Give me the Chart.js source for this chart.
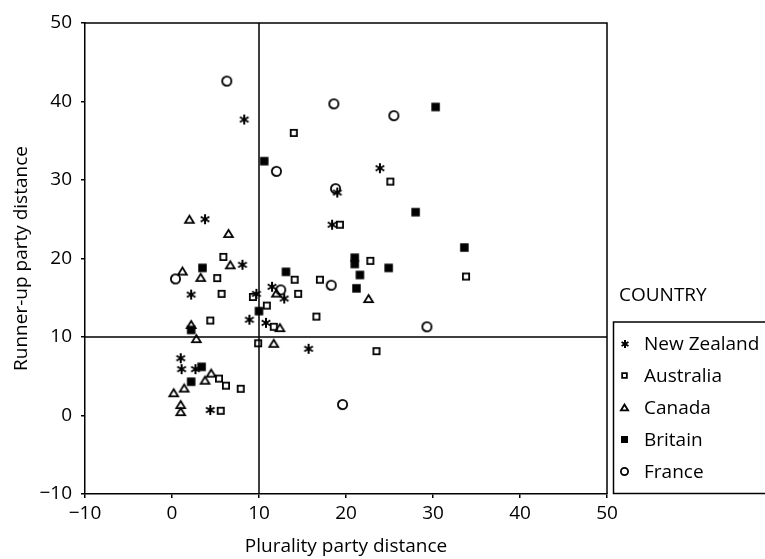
<!DOCTYPE html>
<html>
<head>
<meta charset="utf-8">
<script src="https://cdn.jsdelivr.net/npm/chart.js@4.4.1/dist/chart.umd.min.js"></script>
<style>
  html, body { margin: 0; padding: 0; background: #fff; }
  #wrap { width: 765px; height: 559px; }
</style>
</head>
<body>
<div id="wrap"><canvas id="scatterChart" width="765" height="559"></canvas></div>
<script>
// Values
const countries = ['New Zealand', 'Australia', 'Canada', 'Britain', 'France'];

const nzX = [8.3, 3.8, 8.1, 2.2, 9.7, 11.5, 12.9, 8.9, 10.8, 15.7, 1.0, 1.1, 2.7, 4.4, 23.9, 19.0, 18.4];
const nzY = [37.7, 25.0, 19.2, 15.4, 15.5, 16.4, 14.9, 12.2, 11.8, 8.5, 7.3, 5.9, 5.9, 0.7, 31.5, 28.4, 24.3];

const ausX = [14.0, 25.1, 19.3, 5.9, 5.2, 5.7, 4.4, 9.3, 10.9, 11.7, 9.9, 14.1, 14.5, 17.0, 16.6, 22.8, 33.8, 23.5, 5.4, 6.2, 7.9, 5.6];
const ausY = [36.0, 29.8, 24.3, 20.2, 17.5, 15.5, 12.1, 15.1, 14.0, 11.3, 9.2, 17.3, 15.5, 17.3, 12.6, 19.7, 17.7, 8.2, 4.7, 3.8, 3.4, 0.6];

const canX = [2.0, 6.5, 6.7, 1.2, 3.3, 12.0, 12.4, 11.7, 2.2, 2.8, 22.6, 4.5, 3.8, 1.4, 0.2, 1.0, 1.0];
const canY = [25.0, 23.2, 19.2, 18.4, 17.6, 15.6, 11.2, 9.2, 11.6, 9.8, 14.9, 5.4, 4.5, 3.5, 2.9, 1.4, 0.5];

const briX = [10.6, 30.3, 28.0, 33.6, 21.0, 21.0, 24.9, 21.6, 21.2, 3.5, 13.1, 10.0, 2.2, 3.4, 2.2];
const briY = [32.4, 39.3, 25.9, 21.4, 20.1, 19.3, 18.8, 17.9, 16.2, 18.8, 18.3, 13.3, 10.9, 6.2, 4.3];

const fraX = [6.3, 18.6, 25.5, 12.0, 18.8, 0.4, 12.5, 18.3, 29.3, 19.6];
const fraY = [42.6, 39.7, 38.2, 31.1, 28.9, 17.4, 16.0, 16.6, 11.3, 1.4];

const xTicks = [-10, 0, 10, 20, 30, 40, 50];
const yTicks = [-10, 0, 10, 20, 30, 40, 50];
const refX = 10;
const refY = 10;

const FONT = '"Open Sans", "DejaVu Sans", sans-serif';

// small canvases used as point styles
function makeMarker(kind, size) {
    const s = Math.ceil(size) + 4;
    const c = document.createElement('canvas');
    c.width = s;
    c.height = s;
    const g = c.getContext('2d');
    const m = s / 2;
    const r = size / 2;
    g.strokeStyle = '#000';
    g.fillStyle = '#000';
    g.lineWidth = 1.8;
    g.beginPath();
    if (kind === 'asterisk') {
        g.lineWidth = 2;
        [90, 30, 150].forEach(function (deg) {
            const t = deg * Math.PI / 180;
            g.moveTo(m - r * Math.cos(t), m - r * Math.sin(t));
            g.lineTo(m + r * Math.cos(t), m + r * Math.sin(t));
        });
        g.stroke();
    } else if (kind === 'square') {
        g.rect(m - r + 0.9, m - r + 0.9, size - 1.8, size - 1.8);
        g.stroke();
    } else if (kind === 'filled') {
        g.rect(m - r, m - r, size, size);
        g.fill();
    } else if (kind === 'triangle') {
        const h = size * 0.85;
        g.moveTo(m, m - h / 2 + 0.9);
        g.lineTo(m + r - 0.9, m + h / 2 - 0.9);
        g.lineTo(m - r + 0.9, m + h / 2 - 0.9);
        g.closePath();
        g.stroke();
    } else if (kind === 'circle') {
        g.arc(m, m, r - 0.9, 0, Math.PI * 2);
        g.stroke();
    }
    return c;
}

const markerKinds = ['asterisk', 'square', 'triangle', 'filled', 'circle'];
const plotSizes = [10, 8, 10.5, 8.5, 11];
const legendSizes = [8, 6.5, 9, 7, 9];

function toPoints(xs, ys) {
    return xs.map(function (x, i) { return { x: x, y: ys[i] }; });
}

const seriesX = [nzX, ausX, canX, briX, fraX];
const seriesY = [nzY, ausY, canY, briY, fraY];

const datasets = countries.map(function (name, i) {
    return {
        label: name,
        data: toPoints(seriesX[i], seriesY[i]),
        pointStyle: makeMarker(markerKinds[i], plotSizes[i]),
        pointRadius: plotSizes[i] / 2,
        pointHoverRadius: plotSizes[i] / 2
    };
});

// frame, quadrant lines and the COUNTRY legend
const framePlugin = {
    id: 'frame',
    beforeDatasetsDraw(chart) {
        const ctx = chart.ctx;
        const a = chart.chartArea;
        const xs = chart.scales.x;
        const ys = chart.scales.y;
        ctx.save();
        ctx.strokeStyle = '#000';
        ctx.lineWidth = 1.5;
        ctx.beginPath();
        ctx.moveTo(a.left, a.top);
        ctx.lineTo(a.right, a.top);
        ctx.lineTo(a.right, a.bottom);
        const px = xs.getPixelForValue(refX);
        ctx.moveTo(px, a.top);
        ctx.lineTo(px, a.bottom);
        const py = ys.getPixelForValue(refY);
        ctx.moveTo(a.left, py);
        ctx.lineTo(a.right, py);
        ctx.stroke();
        ctx.restore();
    },
    afterDraw(chart) {
        const ctx = chart.ctx;
        ctx.save();
        ctx.fillStyle = '#000';
        ctx.strokeStyle = '#000';
        ctx.lineWidth = 1.5;
        ctx.font = '19px ' + FONT;
        ctx.textBaseline = 'middle';
        ctx.textAlign = 'left';
        ctx.fillText('COUNTRY', 619, 296);
        ctx.strokeRect(613.5, 322, 200, 171.5);
        countries.forEach(function (name, i) {
            const y = 344 + i * 31.9;
            const mk = makeMarker(markerKinds[i], legendSizes[i]);
            ctx.drawImage(mk, Math.round(624.5 - mk.width / 2), Math.round(y - mk.height / 2));
            ctx.fillText(name, 644, y + 1);
        });
        ctx.restore();
    }
};

const axisStyle = {
    grid: { display: true, drawOnChartArea: false, drawTicks: true, tickLength: 4, color: '#000', lineWidth: 1.5 },
    border: { display: true, color: '#000', width: 1.5 }
};

const scatterChart = new Chart(document.getElementById('scatterChart').getContext('2d'), {
    type: 'scatter',
    data: { datasets: datasets },
    options: {
        responsive: false,
        animation: false,
        devicePixelRatio: 1,
        events: [],
        layout: { padding: { top: 23, right: 158, left: 0, bottom: 0 } },
        plugins: {
            legend: { display: false },
            tooltip: { enabled: false }
        },
        scales: {
            x: Object.assign({
                type: 'linear',
                min: -10,
                max: 50,
                afterBuildTicks: function (scale) {
                    scale.ticks = xTicks.map(function (v) { return { value: v }; });
                },
                afterFit: function (scale) { scale.height = 65; },
                ticks: {
                    color: '#000',
                    padding: 4,
                    maxRotation: 0,
                    font: { family: FONT, size: 19 },
                    callback: function (v) { return v < 0 ? '\u2212' + Math.abs(v) : v; }
                },
                title: {
                    display: true,
                    text: 'Plurality party distance',
                    color: '#000',
                    font: { family: FONT, size: 19 },
                    padding: { top: 0, bottom: 1 }
                }
            }, axisStyle),
            y: Object.assign({
                type: 'linear',
                min: -10,
                max: 50,
                afterBuildTicks: function (scale) {
                    scale.ticks = yTicks.map(function (v) { return { value: v }; });
                },
                afterFit: function (scale) { scale.width = 85; },
                ticks: {
                    color: '#000',
                    padding: 9,
                    font: { family: FONT, size: 19 },
                    callback: function (v) { return v < 0 ? '\u2212' + Math.abs(v) : v; }
                },
                title: {
                    display: true,
                    text: 'Runner-up party distance',
                    color: '#000',
                    font: { family: FONT, size: 19 },
                    padding: { top: 10, bottom: 0 }
                }
            }, axisStyle)
        }
    },
    plugins: [framePlugin]
});
</script>
</body>
</html>
